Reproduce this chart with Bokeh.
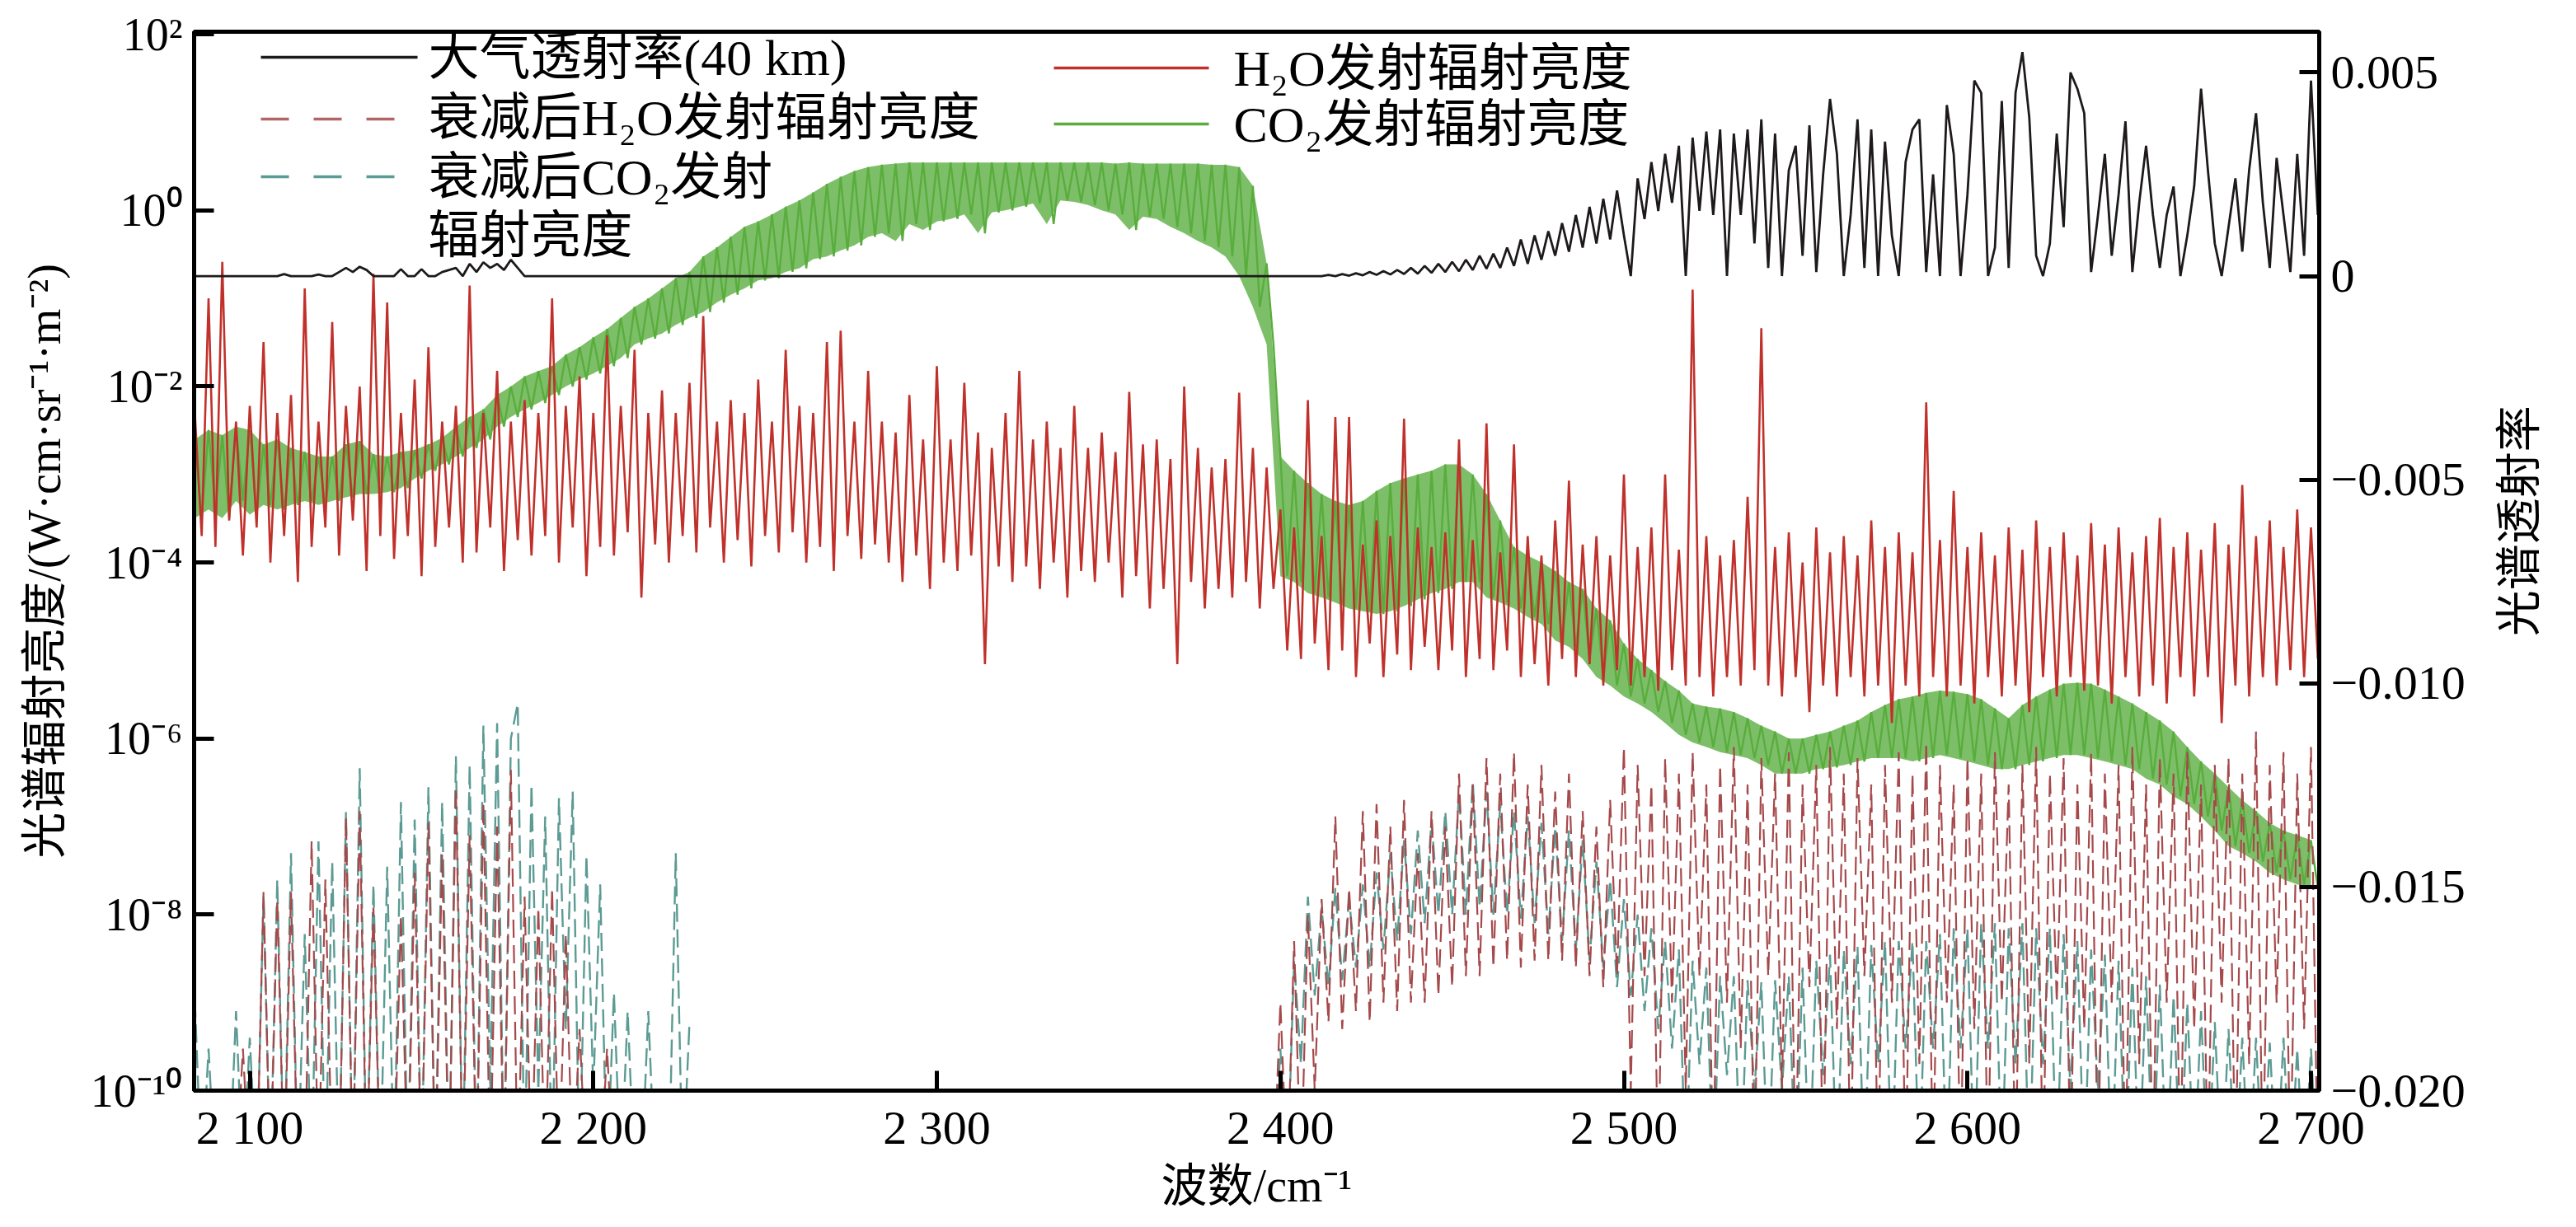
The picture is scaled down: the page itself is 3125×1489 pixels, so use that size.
import math
import numpy as np
from bokeh.plotting import figure
from bokeh.layouts import row
from bokeh.models import Range1d, LinearAxis, FixedTicker, LinearScale
from bokeh.embed import file_html
from bokeh.resources import INLINE
from bokeh.core.properties import value

# ---------------- data ----------------
# common spectral grid for the full-range series: 2084, 2086, ... 2702 cm-1
GRID_START = 2084.0
GRID_STEP = 2.0

# CO2 emission radiance, W/(cm sr m^2)  (green, left log axis); alternating line tops / line floors
co2_radiance = [
    2.5e-3, 3.2e-4, 3.2e-3, 4e-4, 2.8e-3, 3.2e-4, 3.5e-3, 5e-4, 3.2e-3, 3.5e-4,
    2.2e-3, 4.5e-4, 2.5e-3, 4e-4, 2e-3, 4.5e-4, 1.8e-3, 5e-4, 1.6e-3, 4.5e-4,
    1.6e-3, 5e-4, 2.2e-3, 5.5e-4, 2.4e-3, 6e-4, 1.7e-3, 6e-4, 1.6e-3, 6.3e-4,
    1.8e-3, 7e-4, 1.9e-3, 9e-4, 2.2e-3, 1.1e-3, 2.6e-3, 1.3e-3, 3.5e-3, 1.6e-3,
    4.5e-3, 2e-3, 5.5e-3, 2.5e-3, 8e-3, 3.5e-3, 1e-2, 4.5e-3, 1.3e-2, 5.5e-3,
    1.5e-2, 6.5e-3, 1.7e-2, 8e-3, 2.3e-2, 1e-2, 2.8e-2, 1.2e-2, 3.6e-2, 1.4e-2,
    4.5e-2, 1.7e-2, 6e-2, 2.1e-2, 8e-2, 3e-2, 0.1, 3.5e-2, 0.13, 4e-2,
    0.17, 5e-2, 0.2, 6e-2, 0.3, 7e-2, 0.38, 9e-2, 0.5, 0.11,
    0.65, 0.13, 0.75, 0.16, 0.9, 0.17, 1.1, 0.2, 1.3, 0.22,
    1.6, 0.28, 2.0, 0.3, 2.4, 0.35, 2.8, 0.4, 3.1, 0.5,
    3.3, 0.55, 3.4, 0.45, 3.5, 0.7, 3.5, 0.6, 3.5, 0.75,
    3.5, 0.8, 3.5, 0.9, 3.5, 0.55, 3.5, 0.95, 3.5, 1.0,
    3.5, 1.1, 3.5, 1.2, 3.5, 0.7, 3.5, 1.3, 3.5, 1.25,
    3.5, 1.15, 3.5, 1.0, 3.4, 0.9, 3.5, 0.6, 3.4, 0.85,
    3.4, 0.8, 3.4, 0.65, 3.4, 0.55, 3.4, 0.45, 3.3, 0.38,
    3.3, 0.3, 3.1, 0.18, 1.9, 0.08, 0.25, 0.03, 1.6e-3, 7e-5,
    1.1e-3, 6e-5, 8e-4, 4.5e-5, 6e-4, 4e-5, 5e-4, 3.5e-5, 4.5e-4, 3e-5,
    5e-4, 2.8e-5, 6.5e-4, 2.6e-5, 8e-4, 2.8e-5, 9e-4, 3.2e-5, 1e-3, 3.8e-5,
    1.1e-3, 4.5e-5, 1.3e-3, 5e-5, 1.3e-3, 6e-5, 1e-3, 6e-5, 6e-4, 4e-5,
    3e-4, 3.5e-5, 1.5e-4, 3e-5, 1.2e-4, 2.4e-5, 1e-4, 2e-5, 8e-5, 1.3e-5,
    6e-5, 1.1e-5, 5e-5, 8e-6, 3e-5, 5e-6, 2.2e-5, 4e-6, 1.2e-5, 3e-6,
    8e-6, 2.5e-6, 6e-6, 2e-6, 4.5e-6, 1.5e-6, 3.5e-6, 1.1e-6, 2.5e-6, 9e-7,
    2.3e-6, 8e-7, 2.2e-6, 7e-7, 2e-6, 6.5e-7, 1.7e-6, 6e-7, 1.4e-6, 5e-7,
    1.2e-6, 4e-7, 1e-6, 4e-7, 1e-6, 4e-7, 1.1e-6, 4.5e-7, 1.2e-6, 4.7e-7,
    1.4e-6, 5e-7, 1.6e-6, 5.5e-7, 2e-6, 6e-7, 2.4e-6, 6e-7, 2.8e-6, 6e-7,
    3e-6, 5.5e-7, 3.3e-6, 6e-7, 3.5e-6, 6.5e-7, 3.4e-6, 6e-7, 3.2e-6, 5.5e-7,
    2.8e-6, 5e-7, 2.2e-6, 4.5e-7, 1.7e-6, 4.5e-7, 2.4e-6, 5e-7, 3e-6, 5.5e-7,
    3.6e-6, 6e-7, 4.2e-6, 6.5e-7, 4.3e-6, 6.5e-7, 4.2e-6, 6e-7, 3.6e-6, 5.5e-7,
    3e-6, 5e-7, 2.5e-6, 4.5e-7, 2e-6, 3.5e-7, 1.6e-6, 3e-7, 1.2e-6, 2.2e-7,
    8e-7, 1.8e-7, 5.5e-7, 1.3e-7, 4e-7, 9e-8, 2.8e-7, 6e-8, 2e-7, 5e-8,
    1.5e-7, 4e-8, 1.1e-7, 3e-8, 9e-8, 2.5e-8, 8e-8, 2.2e-8, 7e-8, 2e-8,
]

# H2O emission radiance (red, left log axis)
h2o_radiance = [
    5e-3, 2e-4, 0.1, 1.5e-4, 0.26, 3e-4, 4e-3, 1.2e-4, 6e-3, 2.5e-4,
    3.2e-2, 1e-4, 5e-3, 2e-4, 8e-3, 6e-5, 0.13, 1.5e-4, 4e-3, 2.5e-4,
    5.4e-2, 1.2e-4, 6e-3, 3e-4, 1e-2, 8e-5, 0.19, 2e-4, 9e-2, 1.1e-4,
    5e-3, 2e-4, 1.2e-2, 7e-5, 2.8e-2, 1.5e-4, 4e-3, 2.5e-4, 6e-3, 1e-4,
    0.14, 1.3e-4, 5e-3, 2.5e-4, 1.5e-2, 8e-5, 4e-3, 1.8e-4, 7e-3, 1.2e-4,
    5e-3, 2e-4, 0.1, 1e-4, 6e-3, 2.5e-4, 1.3e-2, 7e-5, 5e-3, 1.5e-4,
    3.8e-2, 1.2e-4, 6e-3, 2.2e-4, 2.6e-2, 4e-5, 5e-3, 1.6e-4, 9e-3, 1e-4,
    5e-3, 2e-4, 1.1e-2, 1.3e-4, 6.3e-2, 2.5e-4, 4e-3, 1e-4, 7e-3, 1.8e-4,
    5e-3, 9e-5, 1.2e-2, 2e-4, 4e-3, 1.3e-4, 2.6e-2, 2.2e-4, 6e-3, 1e-4,
    5e-3, 1.5e-4, 3.2e-2, 8e-5, 4.3e-2, 2e-4, 4e-3, 1.1e-4, 1.5e-2, 1.6e-4,
    4e-3, 1e-4, 3e-3, 6e-5, 8e-3, 1.2e-4, 2.5e-3, 5e-5, 1.7e-2, 1e-4,
    2.5e-3, 8e-5, 1.1e-2, 1.2e-4, 3e-3, 7e-6, 2e-3, 9e-5, 5e-3, 6e-5,
    1.5e-2, 9e-5, 2.5e-3, 5e-5, 4e-3, 1e-4, 2e-3, 4e-5, 6e-3, 8e-5,
    2e-3, 6e-5, 3e-3, 1e-4, 1.8e-3, 4e-5, 8.7e-3, 7e-5, 2.2e-3, 3e-5,
    2.5e-3, 5e-5, 1.5e-3, 7e-6, 1e-2, 6e-5, 2e-3, 3e-5, 1.2e-3, 5e-5,
    1.5e-3, 4e-5, 8.5e-3, 6e-5, 2e-3, 3e-5, 1.2e-3, 5e-5, 4e-4, 1e-5,
    2.5e-4, 8e-6, 7e-3, 1.2e-5, 2e-4, 6e-6, 4.5e-3, 1e-5, 4.5e-3, 5e-6,
    1.6e-4, 1.2e-5, 3e-4, 5e-6, 2e-4, 9e-6, 4.3e-3, 6e-6, 2.5e-4, 1.1e-5,
    1.5e-4, 6e-6, 2.2e-4, 1e-5, 2.5e-3, 5e-6, 1.8e-4, 8e-6, 3.8e-3, 6e-6,
    1.3e-4, 1e-5, 2.2e-3, 5e-6, 2e-4, 7e-6, 1.2e-4, 4e-6, 3e-4, 8e-6,
    8.5e-4, 5e-6, 1.6e-4, 7e-6, 2e-4, 4e-6, 1.2e-4, 6e-6, 1e-3, 4e-6,
    1.5e-4, 5e-6, 2.5e-4, 3.5e-6, 1e-3, 6e-6, 1.4e-4, 4e-6, 0.126, 5e-6,
    2e-4, 3e-6, 1.2e-4, 5e-6, 1.8e-4, 4e-6, 5.6e-4, 6e-6, 4.6e-2, 4e-6,
    1.5e-4, 3e-6, 2.2e-4, 5e-6, 1e-4, 2e-6, 2.5e-4, 4e-6, 1.3e-4, 3e-6,
    2e-4, 5e-6, 1.2e-4, 3e-6, 3e-4, 4e-6, 1.5e-4, 1.5e-6, 2.2e-4, 4e-6,
    1.3e-4, 3e-6, 6.6e-3, 5e-6, 1.8e-4, 3e-6, 6.5e-4, 4e-6, 1.5e-4, 2.5e-6,
    2.2e-4, 5e-6, 1.2e-4, 3e-6, 2.5e-4, 4e-6, 1.4e-4, 2e-6, 3e-4, 5e-6,
    1.5e-4, 3e-6, 2.2e-4, 5e-6, 1.2e-4, 3.5e-6, 2.8e-4, 4e-6, 1.6e-4, 2.5e-6,
    2.5e-4, 5e-6, 1.3e-4, 3e-6, 2e-4, 4e-6, 3.2e-4, 2.5e-6, 1.5e-4, 5e-6,
    2.2e-4, 3e-6, 1.4e-4, 5e-6, 2.8e-4, 1.5e-6, 1.6e-4, 4e-6, 7.6e-4, 3e-6,
    2e-4, 5e-6, 3e-4, 4e-6, 1.5e-4, 6e-6, 4e-4, 5e-6, 2.5e-4, 8e-6,
]

# atmospheric transmittance, 40 km path (black, right axis)
transmittance = [
    0, 0, 0, 0, 0, 0, 0, 0, 0, 0,
    0, 0, 0, 5e-5, 0, 0, 0, 0, 4e-5, 0,
    0, 1e-4, 2e-4, 1e-4, 2.3e-4, 1.5e-4, 0, 0, 0, 0,
    1.7e-4, 0, 0, 1.7e-4, 0, 0, 1e-4, 1.5e-4, 2e-4, 0,
    3e-4, 1e-4, 3.4e-4, 2e-4, 3e-4, 1.5e-4, 4e-4, 2e-4, 0, 0,
    0, 0, 0, 0, 0, 0, 0, 0, 0, 0,
    0, 0, 0, 0, 0, 0, 0, 0, 0, 0,
    0, 0, 0, 0, 0, 0, 0, 0, 0, 0,
    0, 0, 0, 0, 0, 0, 0, 0, 0, 0,
    0, 0, 0, 0, 0, 0, 0, 0, 0, 0,
    0, 0, 0, 0, 0, 0, 0, 0, 0, 0,
    0, 0, 0, 0, 0, 0, 0, 0, 0, 0,
    0, 0, 0, 0, 0, 0, 0, 0, 0, 0,
    0, 0, 0, 0, 0, 0, 0, 0, 0, 0,
    0, 0, 0, 0, 0, 0, 0, 0, 0, 0,
    0, 0, 0, 0, 0, 0, 0, 0, 0, 0,
    0, 0, 0, 0, 0, 3e-5, 0, 5e-5, 1e-5, 7e-5,
    2e-5, 1e-4, 3e-5, 1.2e-4, 4e-5, 1.5e-4, 5e-5, 2e-4, 6e-5, 2.5e-4,
    8e-5, 3e-4, 1e-4, 3.5e-4, 1.2e-4, 4e-4, 1.5e-4, 5e-4, 1.8e-4, 5.5e-4,
    2e-4, 7e-4, 2.5e-4, 9e-4, 3e-4, 1e-3, 4e-4, 1.1e-3, 5e-4, 1.3e-3,
    6e-4, 1.5e-3, 7e-4, 1.7e-3, 8e-4, 1.9e-3, 9e-4, 2.1e-3, 1e-3, 0,
    2.4e-3, 1.4e-3, 2.8e-3, 1.6e-3, 3e-3, 1.8e-3, 3.2e-3, 0, 3.4e-3, 1.6e-3,
    3.55e-3, 1.5e-3, 3.6e-3, 0, 3.5e-3, 1.5e-3, 3.6e-3, 8e-4, 3.85e-3, 2e-4,
    3.5e-3, 0, 2.6e-3, 3.2e-3, 5e-4, 3.7e-3, 1e-4, 2.5e-3, 4.35e-3, 3e-3,
    0, 1.5e-3, 3.85e-3, 2e-4, 3.6e-3, 0, 3.3e-3, 1e-3, 0, 2.8e-3,
    3.6e-3, 3.85e-3, 1e-4, 2.5e-3, 0, 4.2e-3, 3e-3, 0, 2e-3, 4.8e-3,
    4.5e-3, 0, 7e-4, 4.3e-3, 2e-4, 4.5e-3, 5.5e-3, 3.9e-3, 5e-4, 0,
    8e-4, 3.5e-3, 1.2e-3, 5e-3, 4.6e-3, 4e-3, 1e-4, 1.5e-3, 3e-3, 5e-4,
    2e-3, 3.8e-3, 1e-4, 1.8e-3, 3.2e-3, 1.5e-3, 2e-4, 1.5e-3, 2.2e-3, 0,
    1e-3, 2.2e-3, 4.6e-3, 2.6e-3, 8e-4, 0, 1.2e-3, 2.4e-3, 6e-4, 2.6e-3,
    4e-3, 1.8e-3, 2e-4, 2.9e-3, 1.5e-3, 1e-4, 3e-3, 5e-4, 4.8e-3, 1.5e-3,
]

# attenuated CO2 emission radiance (teal dashed); 1e-11 = below the axis floor
co2_att_a_start = 2084.0
co2_att_a = [
    1.1e-9, 1e-11, 3e-10, 1e-11, 1e-11, 1e-11, 8e-10, 1e-11, 4e-10, 1e-11,
    1.6e-8, 1e-11, 2.5e-8, 1e-11, 5e-8, 1e-11, 6e-9, 1e-11, 6.8e-8, 1e-11,
    4e-8, 1e-11, 1.5e-7, 1e-11, 4.6e-7, 1e-11, 2.2e-8, 1e-11, 3.5e-8, 1e-11,
    1.9e-7, 1e-11, 1.2e-7, 1e-11, 2.8e-7, 1e-11, 1.9e-7, 1e-11, 6.3e-7, 1e-11,
    5e-7, 1e-11, 1.4e-6, 1e-10, 1.5e-6, 1e-11, 1e-6, 2.5e-6, 1e-11, 3e-7,
    1e-10, 1.3e-7, 1e-11, 2.1e-7, 5e-10, 2.5e-7, 1e-11, 4.7e-8, 1e-10, 2.2e-8,
    1e-11, 1.3e-9, 1e-11, 8e-10, 1e-11, 1e-11, 8e-10, 1e-11, 1e-11, 1e-11,
    5e-8, 1e-11, 6e-10,
]
co2_att_b_start = 2398.0
co2_att_b = [
    1e-11, 3e-10, 1e-11, 3e-9, 2e-10, 1.6e-8, 1.2e-9, 1.2e-8, 1.5e-9, 2e-8,
    1.8e-9, 1.5e-8, 2.5e-9, 2.2e-8, 2.5e-9, 3e-8, 4e-9, 5e-8, 5e-9, 7e-8,
    6e-9, 9e-8, 8e-9, 1.2e-7, 1e-8, 1.5e-7, 1e-8, 2.5e-7, 1e-8, 3.3e-7,
    1.2e-8, 2.5e-7, 1e-8, 1.8e-7, 1e-8, 1.5e-7, 9e-9, 1.3e-7, 8e-9, 1.1e-7,
    6e-9, 1e-7, 5e-9, 9e-8, 4e-9, 7e-8, 3e-9, 4e-8, 2.5e-9, 2.5e-8,
    1.5e-9, 1.5e-8, 1.2e-9, 1e-8, 8e-10, 7e-9, 5e-10, 5e-9, 3e-10, 4e-9,
    1e-11, 3e-9, 2e-10, 2.5e-9, 1e-11, 2e-9, 1.5e-10, 2e-9, 1e-11, 1.8e-9,
    1e-10, 1.7e-9, 1e-11, 1.8e-9, 1e-10, 2e-9, 1e-11, 2.5e-9, 1e-11, 3e-9,
    1.5e-10, 3.5e-9, 1e-11, 4e-9, 2e-10, 4.3e-9, 1e-11, 4.5e-9, 2e-10, 5e-9,
    1e-11, 5e-9, 3e-10, 5e-9, 1e-11, 5e-9, 3e-10, 6e-9, 1e-11, 7e-9,
    3e-10, 7e-9, 1e-11, 8e-9, 3e-10, 8e-9, 1e-11, 7e-9, 2e-10, 8e-9,
    1e-11, 7e-9, 2e-10, 7e-9, 1e-11, 6e-9, 1e-10, 5e-9, 1e-11, 4e-9,
    1e-10, 3.5e-9, 1e-11, 3e-9, 1e-11, 2.5e-9, 1e-11, 2e-9, 1e-11, 1.6e-9,
    1e-11, 1.2e-9, 1e-11, 1e-9, 1e-11, 8e-10, 1e-11, 6e-10, 1e-11, 5e-10,
    1e-11, 4e-10, 1e-11, 4e-10, 1e-11, 3.5e-10, 1e-11, 4e-10, 1e-11, 3e-10,
    1e-11, 3e-10, 1e-11,
]

# attenuated H2O emission radiance (brown dashed)
h2o_att_a_start = 2096.0
h2o_att_a = [
    1e-11, 3e-10, 1e-11, 1e-11, 1.8e-8, 1e-11, 1.5e-8, 1e-11, 1.8e-8, 1e-11,
    1e-11, 6.8e-8, 1e-11, 2.5e-8, 1e-11, 1e-11, 1.3e-7, 1e-11, 1.5e-7, 1e-11,
    1.2e-8, 1e-11, 1e-11, 1e-11, 1e-8, 1e-11, 3e-8, 1e-11, 1.1e-7, 1e-11,
    5e-8, 1e-11, 2.8e-7, 1e-11, 8e-8, 1e-11, 1.9e-7, 1e-11, 1e-7, 1e-11,
    4.4e-7, 1e-11, 1.6e-8, 1e-11, 1.2e-8, 1e-11, 2e-8, 1e-11, 6e-9, 1e-11,
    5e-10, 1e-11, 1e-11, 1e-11, 3e-10, 1e-11,
]
h2o_att_b_start = 2398.0
h2o_att_b = [
    1e-11, 1e-9, 1e-11, 5e-9, 1e-11, 1e-8, 1e-10, 1.5e-8, 6e-10, 1.3e-7,
    5e-10, 2e-8, 8e-10, 1.5e-7, 6e-10, 1.8e-7, 1e-9, 1e-7, 8e-10, 2e-7,
    1e-9, 5e-8, 1e-9, 1.5e-7, 1.2e-9, 1e-7, 1.5e-9, 4e-7, 2e-9, 3e-7,
    2e-9, 6e-7, 2.5e-9, 4e-7, 3e-9, 7e-7, 2.5e-9, 3e-7, 3e-9, 5e-7,
    3e-9, 2.5e-7, 3e-9, 4e-7, 2.5e-9, 1.5e-7, 2e-9, 1e-7, 1.5e-9, 2e-7,
    2e-9, 8e-7, 1e-10, 5e-7, 2e-9, 3e-7, 1e-11, 6e-7, 1e-9, 4e-7,
    1e-10, 7e-7, 2e-9, 3e-7, 1e-11, 5e-7, 1e-9, 8e-7, 3e-10, 3e-7,
    1e-11, 6e-7, 2e-9, 4e-7, 1e-10, 7e-7, 1e-11, 3e-7, 1.5e-9, 5e-7,
    1e-11, 8e-7, 5e-10, 4e-7, 1e-11, 6e-7, 2e-9, 3e-7, 1e-11, 5e-7,
    1e-9, 7e-7, 1e-11, 4e-7, 2e-10, 9e-7, 1e-11, 5e-7, 1e-9, 3e-7,
    1e-11, 6e-7, 5e-10, 4e-7, 1e-11, 7e-7, 1e-9, 3e-7, 1e-11, 5e-7,
    2e-10, 8e-7, 1e-11, 4e-7, 1e-9, 6e-7, 1e-11, 3e-7, 5e-10, 7e-7,
    1e-11, 4e-7, 1e-9, 5e-7, 1e-11, 8e-7, 2e-10, 3e-7, 1e-11, 6e-7,
    1e-9, 4e-7, 1e-11, 7e-7, 5e-10, 3e-7, 1e-11, 5e-7, 1e-9, 6e-7,
    1e-11, 4e-7, 2e-10, 1.2e-6, 1e-11, 5e-7, 1e-9, 7e-7, 1e-11, 4e-7,
    5e-10, 8e-7, 1e-11,
]

x_ticks = [2100, 2200, 2300, 2400, 2500, 2600, 2700]
x_tick_labels = ["2 100", "2 200", "2 300", "2 400", "2 500", "2 600", "2 700"]
rad_ticks = [1e-10, 1e-8, 1e-6, 1e-4, 1e-2, 1, 100]
rad_tick_labels = ["10⁻¹⁰", "10⁻⁸", "10⁻⁶", "10⁻⁴", "10⁻²", "10⁰", "10²"]
tr_ticks = [-0.02, -0.015, -0.01, -0.005, 0, 0.005]
tr_tick_labels = ["−0.020", "−0.015", "−0.010", "−0.005", "0", "0.005"]

legend_texts = ["大气透射率(40 km)", "衰减后H₂O发射辐射亮度", "衰减后CO₂发射", "辐射亮度",
                "H₂O发射辐射亮度", "CO₂发射辐射亮度"]
right_title = "光谱透射率"

# ---------------- styling ----------------
BLACK = "#1e1a1b"
RED = "#c0312b"
GREEN = "#59ad3d"
BROWN = "#a5494b"
TEAL = "#5b9b93"
LAT = "Liberation Serif"
MIX = "Liberation Serif, Noto Sans CJK SC"

X_MIN, X_MAX = 2083.8, 2702.4
LOG_MIN, LOG_MAX = -10.0, 2.03
TR_MIN, TR_MAX = -0.020, 0.006
FW, FH = 2578, 1285
B_LEFT, B_RIGHT, B_TOP, B_BOTTOM = 235, 210, 38, 146
TITLE_W = 64


def grid(start, vals):
    return start + GRID_STEP * np.arange(len(vals))


def fx(px):  # frame pixel -> x data (for legend placement)
    return X_MIN + px / FW * (X_MAX - X_MIN)


def fy(py):  # frame pixel from top -> y data on log axis
    return 10 ** (LOG_MAX - py / FH * (LOG_MAX - LOG_MIN))


p = figure(frame_width=FW, frame_height=FH,
           x_range=Range1d(X_MIN, X_MAX),
           y_range=Range1d(10 ** LOG_MIN, 10 ** LOG_MAX),
           y_axis_type="log", output_backend="svg", toolbar_location=None,
           min_border_left=B_LEFT, min_border_right=B_RIGHT,
           min_border_top=B_TOP, min_border_bottom=B_BOTTOM,
           background_fill_color="white", border_fill_color="white")
p.extra_y_ranges = {"tr": Range1d(TR_MIN, TR_MAX)}
p.extra_y_scales = {"tr": LinearScale()}
p.grid.visible = False
p.outline_line_color = "black"
p.outline_line_width = 5

# data series
gx = grid(GRID_START, co2_radiance)
# band between the alternating line tops and floors of the dense CO2 lines
p.varea(x=gx[0::2], y1=co2_radiance[1::2], y2=co2_radiance[0::2],
        fill_color=GREEN, fill_alpha=0.78)
p.line(gx, co2_radiance, line_color=GREEN, line_width=2.4, line_join="bevel")
p.line(grid(GRID_START, h2o_radiance), h2o_radiance, line_color=RED, line_width=2.6, line_join="bevel")
for start, vals in ((co2_att_a_start, co2_att_a), (co2_att_b_start, co2_att_b)):
    p.line(grid(start, vals), vals, line_color=TEAL, line_width=2.4, line_dash="22 9", line_join="bevel")
for start, vals in ((h2o_att_a_start, h2o_att_a), (h2o_att_b_start, h2o_att_b)):
    p.line(grid(start, vals), vals, line_color=BROWN, line_width=2.2, line_dash="22 9", line_join="bevel")
p.line(grid(GRID_START, transmittance), transmittance, line_color=BLACK, line_width=2.8,
       line_join="bevel", y_range_name="tr")

# legend (hand placed, two columns)
leg_font = value(MIX)
p.line([fx(81), fx(271)], [fy(31), fy(31)], line_color=BLACK, line_width=3.5)
p.line([fx(81), fx(271)], [fy(106), fy(106)], line_color="#b56464", line_width=3.5, line_dash="34 30")
p.line([fx(81), fx(271)], [fy(176), fy(176)], line_color=TEAL, line_width=3.5, line_dash="34 30")
p.line([fx(1043), fx(1231)], [fy(44), fy(44)], line_color=RED, line_width=3.5)
p.line([fx(1043), fx(1231)], [fy(112), fy(112)], line_color=GREEN, line_width=3.5)
p.text(x=[fx(284)] * 4 + [fx(1261)] * 2,
       y=[fy(31), fy(104), fy(176), fy(247), fy(44), fy(112)],
       text=legend_texts, text_font=leg_font, text_font_size="62px",
       text_baseline="middle", text_align="left", text_color="black")

# axes
def style(ax, size):
    ax.major_label_text_font = LAT
    ax.major_label_text_font_size = size
    ax.major_label_text_color = "black"
    ax.major_tick_in = 24
    ax.major_tick_out = 0
    ax.major_tick_line_width = 5
    ax.major_tick_line_color = "black"
    ax.minor_tick_line_color = None
    ax.axis_line_width = 5
    ax.axis_line_color = "black"
    ax.axis_label_text_font = MIX
    ax.axis_label_text_font_style = "normal"
    ax.axis_label_text_color = "black"

xa = p.xaxis[0]
xa.ticker = FixedTicker(ticks=x_ticks)
xa.major_label_overrides = dict(zip(x_ticks, x_tick_labels))
xa.axis_label = "波数/cm⁻¹"
style(xa, "58px")
xa.axis_label_text_font_size = "56px"
xa.major_label_standoff = 12
xa.axis_label_standoff = 4

ya = p.yaxis[0]
ya.ticker = FixedTicker(ticks=rad_ticks)
ya.major_label_overrides = dict(zip(rad_ticks, rad_tick_labels))
ya.axis_label = "光谱辐射亮度/(W·cm·sr⁻¹·m⁻²)"
style(ya, "56px")
ya.axis_label_text_font_size = "56px"
ya.major_label_standoff = 14
ya.axis_label_standoff = 22

ra = LinearAxis(y_range_name="tr", ticker=FixedTicker(ticks=tr_ticks),
                major_label_overrides=dict(zip(tr_ticks, tr_tick_labels)))
style(ra, "58px")
ra.major_label_standoff = 14
p.add_layout(ra, "right")

# right-hand axis title in a narrow strip (no axes), reading bottom to top like the left one
total_h = B_TOP + FH + B_BOTTOM
t = figure(width=TITLE_W, height=total_h, x_range=Range1d(0, 1), y_range=Range1d(0, total_h),
           x_axis_location=None, y_axis_location=None,
           output_backend="svg", toolbar_location=None, min_border=0,
           background_fill_color="white", border_fill_color="white")
t.grid.visible = False
t.outline_line_color = None
t.text(x=[0.5], y=[total_h - (B_TOP + FH / 2)], text=[right_title], angle=math.pi / 2,
       text_font=value(MIX), text_font_size="56px", text_align="center",
       text_baseline="middle", text_color="black")

layout = row(p, t, spacing=0)
open("out.html", "w").write(file_html(layout, INLINE))
